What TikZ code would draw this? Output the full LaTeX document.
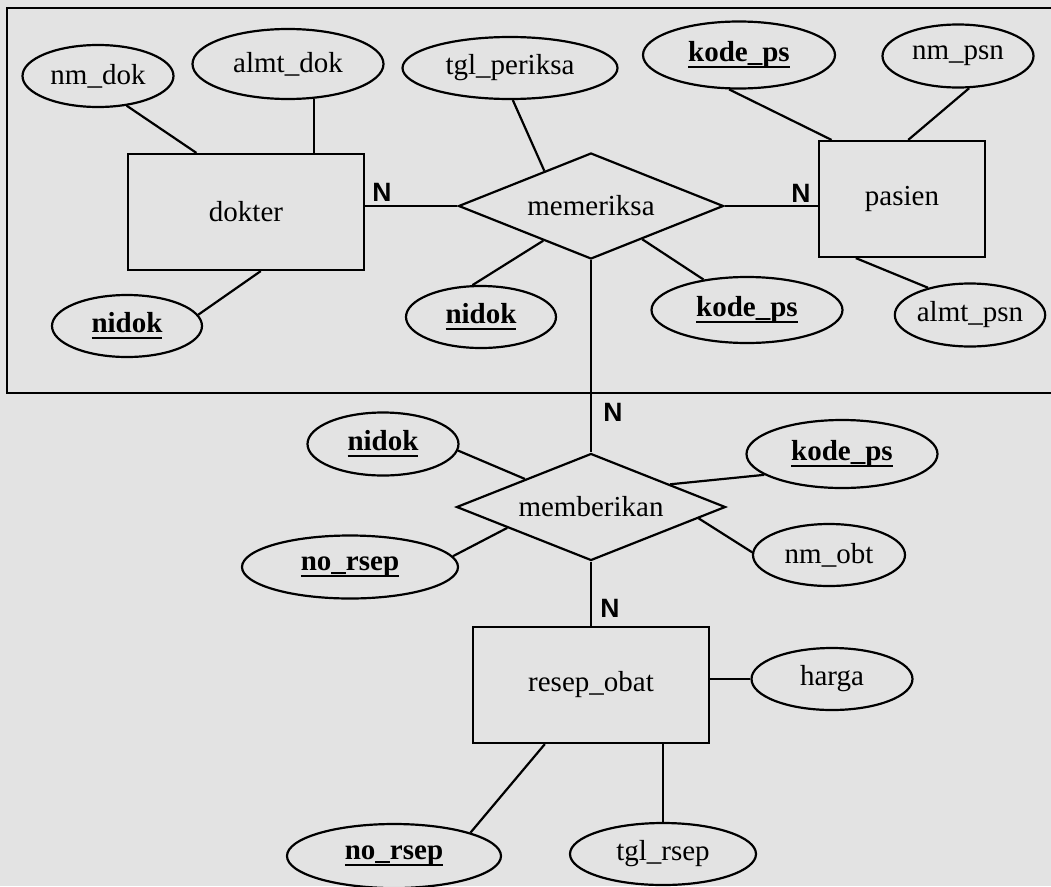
\documentclass[tikz,border=0pt]{standalone}
\usepackage{fontspec}
\setmainfont{Liberation Serif}
\newfontfamily\cardfont{Liberation Sans}
\usetikzlibrary{shapes.geometric, calc}
\definecolor{cmarble}{HTML}{E3E3E3}
\definecolor{cink}{HTML}{000000}
\newcommand{\pkey}[1]{\setbox0=\hbox{\bfseries #1}\rlap{\rule[-6.5pt]{\wd0}{2.4pt}}\box0}
\tikzset{
  every picture/.style={font=\fontsize{29}{34}\selectfont, line width=2.2pt},
  entity/.style={draw=cink, rectangle, inner sep=0pt, minimum height=116},
  attrib/.style={draw=cink, ellipse, inner sep=0pt},
  relship/.style={draw=cink, diamond, aspect=2.5, inner sep=0pt},
  card/.style={inner sep=0pt, font=\cardfont\bfseries\fontsize{26.5}{30}\selectfont},
  frame/.style={draw=cink, line width=2.6pt},
}

\begin{document}
\begin{tikzpicture}[x=1pt, y=-1pt]
  \fill[cmarble] (0,0) rectangle (1051,886);
  \useasboundingbox (0,0) rectangle (1051,886);
  \draw[frame] (1051,8) -| (7,393) -- (1051,393);
  % entities and relationships
  \node[entity, minimum width=236] (dokter) at (246,212) {dokter};
  \node[entity, minimum width=166] (pasien) at (902,199) {pasien};
  \node[entity, minimum width=236] (resep) at (591,685) {resep\_obat};
  \node[relship, minimum width=265, minimum height=106] (memeriksa) at (591,206) {memeriksa};
  \node[relship, minimum width=269, minimum height=107] (memberikan) at (591,507) {memberikan};
  % attributes
  \foreach \n/\x/\y/\w/\h/\t in {nmdok/98/76/151/62/{nm\_dok}, almtdok/288/64/191/70/{almt\_dok},
      nidoka/127/326/150/62/{\pkey{nidok}}, tglperiksa/510/68/215/62/{tgl\_periksa},
      nidokb/481/317/150/62/{\pkey{nidok}}, kodepsa/739/55/192/67/{\pkey{kode\_ps}},
      kodepsb/747/310/191/66/{\pkey{kode\_ps}}, nmpsn/958/56/151/63/{nm\_psn},
      almtpsn/970/315/150/63/{almt\_psn}, nidokc/383/444/151/63/{\pkey{nidok}},
      kodepsc/842/454/191/68/{\pkey{kode\_ps}}, norsepa/350/567/216/63/{\pkey{no\_rsep}},
      nmobt/829/555/152/62/{nm\_obt}, harga/832/679/161/62/{harga},
      norsepb/394/856/214/64/{\pkey{no\_rsep}}, tglrsep/663/854/186/62/{tgl\_rsep}}
    \node[attrib, minimum width=\w, minimum height=\h] (\n) at (\x,\y) {\t};
  % cardinalities
  \node[card] (ndok) at (382,192) {N};
  \node[card] (npsn) at (801,193) {N};
  \node[card] (nberi) at (613,412) {N};
  \node[card] (nresep) at (610,608) {N};
  % connectors
  \draw (nmdok.-46) -- (dokter.130);
  \draw (almtdok.-53) -- (almtdok.-53 |- dokter.north);
  \draw (nidoka.9) -- (dokter.-76);
  \draw (dokter.east |- memeriksa.west) -- (memeriksa.west);
  \draw (tglperiksa.-85) -- (memeriksa.143);
  \draw (nidokb.105) -- (memeriksa.216);
  \draw (kodepsb.145) -- (memeriksa.-33);
  \draw (memeriksa.east) -- (memeriksa.east -| pasien.west);
  \draw (kodepsa.254) -- (pasien.140);
  \draw (nmpsn.-71) -- (pasien.84);
  \draw (pasien.232) -- (almtpsn.147);
  \draw (memeriksa.south) -- (memberikan.north);
  \draw (nidokc.-5) -- (memberikan.157);
  \draw (kodepsc.195) -- (memberikan.16);
  \draw (norsepa.6) -- (memberikan.194);
  \draw (memberikan.-6) -- (nmobt.178);
  \draw (memberikan.south) -- (resep.north);
  \draw (resep.east |- harga.west) -- (harga.west);
  \draw (resep.232) -- (norsepb.17);
  \draw (tglrsep.north |- resep.south) -- (tglrsep.north);
\end{tikzpicture}
\end{document}
